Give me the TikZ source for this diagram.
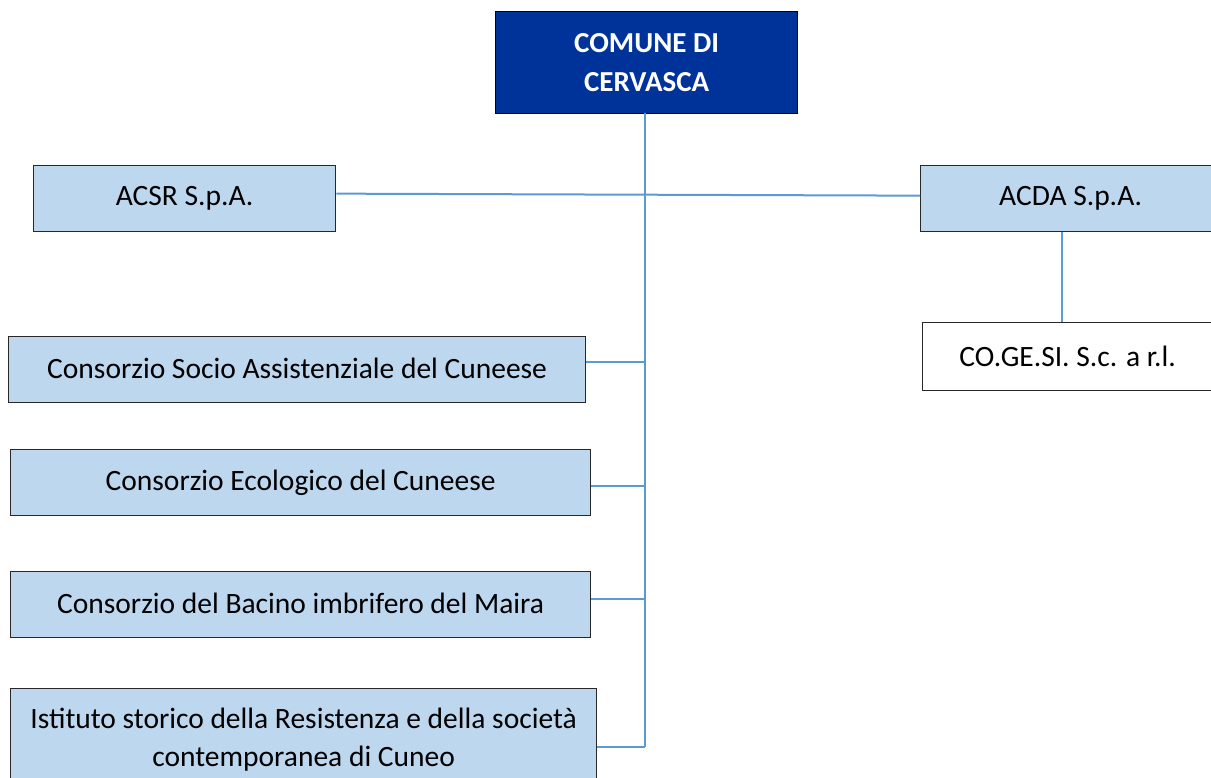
\documentclass[tikz,border=0pt]{standalone}
\usepackage{fontspec}
\setmainfont{Carlito}
\definecolor{topblue}{RGB}{0,51,153}
\definecolor{boxblue}{RGB}{189,215,238}
\definecolor{linkblue}{RGB}{91,155,213}
\definecolor{edgegray}{RGB}{40,40,40}
\begin{document}
\begin{tikzpicture}[x=1pt,y=-1pt,
  orgbox/.style={draw=edgegray,line width=1.3pt,fill=boxblue,anchor=north west,inner sep=0pt,
    align=center,font=\fontsize{29.5}{38}\selectfont,text=black},
  topbox/.style={draw=black,line width=1.3pt,fill=topblue,anchor=north west,inner sep=0pt,
    align=center,font=\fontsize{29}{39}\selectfont\bfseries,text=white},
  link/.style={draw=linkblue,line width=2pt}]
\useasboundingbox (0,0) rectangle (1211,778);
\clip (0,0) rectangle (1211,778);
\fill[white] (0,0) rectangle (1211,778);

\node[topbox,minimum width=302pt,minimum height=102pt] (top) at (495,11) {COMUNE DI\\CERVASCA};
\node[orgbox,minimum width=302pt,minimum height=66pt] (acsr) at (33,165) {ACSR S.p.A.};
\node[orgbox,minimum width=300pt,minimum height=66pt] (acda) at (920,165) {ACDA S.p.A.};
\node[orgbox,fill=white,minimum width=290pt,minimum height=68pt] (cogesi) at (922,322) {CO.GE.SI. S.c. a r.l.};
\node[orgbox,minimum width=577pt,minimum height=66pt] (socio) at (8,336) {\raisebox{3pt}{Consorzio Socio Assistenziale del Cuneese}};
\node[orgbox,minimum width=580pt,minimum height=66pt] (ecol) at (10,449) {\raisebox{3pt}{Consorzio Ecologico del Cuneese}};
\node[orgbox,minimum width=580pt,minimum height=66pt] (bacino) at (10,571) {\raisebox{3pt}{Consorzio del Bacino imbrifero del Maira}};
\node[orgbox,minimum width=586pt,minimum height=102pt] (ist) at (10,688) {Istituto storico della Resistenza e della società\\contemporanea di Cuneo};

\coordinate (t0) at (645,113);
\coordinate (t1) at (645,362);
\coordinate (t2) at (645,486);
\coordinate (t3) at (645,599);
\coordinate (t4) at (645,747);

\draw[link] (t0) -- (t4);
\draw[link] ([yshift=5pt]acsr.east) -- ([yshift=3pt]acda.west);
\draw[link] (acda.south -| 1062,0) -- (cogesi.north -| 1062,0);
\draw[link] (socio.east |- t1) -- (t1);
\draw[link] (ecol.east |- t2) -- (t2);
\draw[link] (bacino.east |- t3) -- (t3);
\draw[link] (ist.east |- t4) -- (t4);
\end{tikzpicture}
\end{document}
